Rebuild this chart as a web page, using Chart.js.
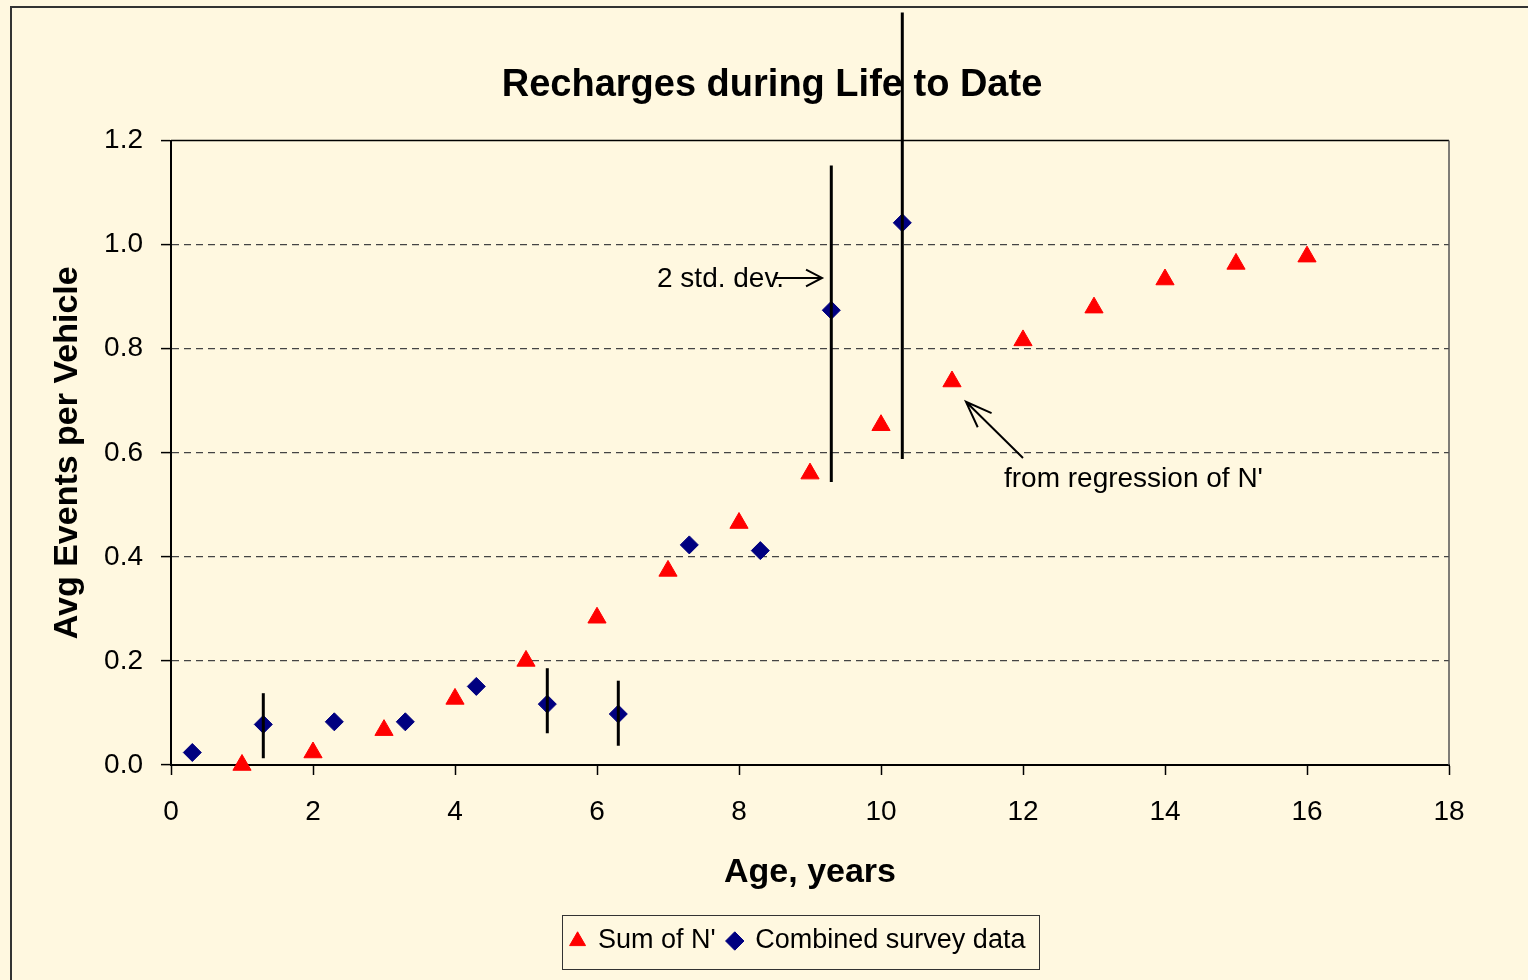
<!DOCTYPE html>
<html>
<head>
<meta charset="utf-8">
<title>Recharges during Life to Date</title>
<script src="https://cdn.jsdelivr.net/npm/chart.js@4/dist/chart.umd.min.js"></script>
<style>
  html, body { margin: 0; padding: 0; background: #FFF8E0; }
  canvas { display: block; }
</style>
</head>
<body>
<canvas id="chart" width="1528" height="980"></canvas>
<script>
// ===========================================================================
// DATA
// ===========================================================================

// "Sum of N'" - one value per year of age
const sumAges   = [1, 2, 3, 4, 5, 6, 7, 8, 9, 10, 11, 12, 13, 14, 15, 16];
const sumValues = [0.0, 0.024, 0.067, 0.127, 0.2, 0.283, 0.373, 0.465, 0.56,
                   0.653, 0.737, 0.816, 0.879, 0.933, 0.963, 0.977];

// "Combined survey data" - sits 0.3 years past each whole year
const surveyAges   = [0.3, 1.3, 2.3, 3.3, 4.3, 5.3, 6.3, 7.3, 8.3, 9.3, 10.3];
const surveyValues = [0.024, 0.078, 0.083, 0.083, 0.151, 0.117, 0.098,
                      0.423, 0.412, 0.874, 1.042];

// 2 std. dev. bars on some survey points (null = no bar)
const surveyErrHigh = [null, 0.138, null, null, null, 0.186, 0.162, null, null, 1.152, 1.446];
const surveyErrLow  = [null, 0.013, null, null, null, 0.061, 0.037, null, null, 0.544, 0.588];

// Axis ticks
const xTickValues = [0, 2, 4, 6, 8, 10, 12, 14, 16, 18];
const xTickLabels = ["0", "2", "4", "6", "8", "10", "12", "14", "16", "18"];
const yTickValues = [0, 0.2, 0.4, 0.6, 0.8, 1.0, 1.2];
const yTickLabels = ["0.0", "0.2", "0.4", "0.6", "0.8", "1.0", "1.2"];

// Text notes with their arrows, placed in data units
const notes = [
  { text: "2 std. dev.", x: 6.845, y: 0.934,
    from: [8.507, 0.936], to: [9.169, 0.936], head: 18, spread: 0.48 },
  { text: "from regression of N'", x: 11.732, y: 0.549,
    from: [12.0, 0.59], to: [11.197, 0.698], head: 28, spread: 0.36 },
];

// ===========================================================================
// LOOK
// ===========================================================================
const BG = "#FFF8E0";
const FONT = "'Liberation Sans', Arial, sans-serif";
Chart.defaults.font.family = FONT;
Chart.defaults.color = "#000";

// ===========================================================================
// PLUGINS (background frame, plot border, error bars, notes, legend box)
// ===========================================================================

const backgroundPlugin = {
  id: "backgroundFrame",
  beforeDraw(chart) {
    const ctx = chart.ctx;
    ctx.save();
    ctx.fillStyle = BG;
    ctx.fillRect(0, 0, chart.width, chart.height);
    // outer chart frame runs off the right and bottom edges
    ctx.strokeStyle = "#333";
    ctx.lineWidth = 2;
    ctx.strokeRect(11, 7, chart.width + 50, chart.height + 50);
    ctx.restore();
  },
};

const plotBorderPlugin = {
  id: "plotBorder",
  afterDraw(chart) {
    const { ctx, chartArea: a } = chart;
    ctx.save();
    ctx.lineWidth = 1.5;
    ctx.strokeStyle = "#000";
    ctx.beginPath();
    ctx.moveTo(a.left, a.top);
    ctx.lineTo(a.right, a.top);
    ctx.stroke();
    ctx.strokeStyle = "#555";
    ctx.beginPath();
    ctx.moveTo(a.right, a.top);
    ctx.lineTo(a.right, a.bottom);
    ctx.stroke();
    ctx.restore();
  },
};

const errorBarPlugin = {
  id: "errorBars",
  afterDatasetsDraw(chart) {
    const { ctx, scales } = chart;
    ctx.save();
    ctx.strokeStyle = "#000";
    ctx.lineWidth = 3;
    surveyAges.forEach((age, i) => {
      if (surveyErrHigh[i] == null) return;
      const x = scales.x.getPixelForValue(age);
      ctx.beginPath();
      ctx.moveTo(x, scales.y.getPixelForValue(surveyErrHigh[i]));
      ctx.lineTo(x, scales.y.getPixelForValue(surveyErrLow[i]));
      ctx.stroke();
    });
    ctx.restore();
  },
};

const notesPlugin = {
  id: "notes",
  afterDraw(chart) {
    const { ctx, scales } = chart;
    const px = (v) => scales.x.getPixelForValue(v);
    const py = (v) => scales.y.getPixelForValue(v);
    ctx.save();
    ctx.fillStyle = "#000";
    ctx.strokeStyle = "#000";
    ctx.lineWidth = 2;
    ctx.font = "28px " + FONT;
    ctx.textBaseline = "middle";
    notes.forEach((n) => {
      ctx.fillText(n.text, px(n.x), py(n.y));
      const x1 = px(n.from[0]), y1 = py(n.from[1]);
      const x2 = px(n.to[0]), y2 = py(n.to[1]);
      const ang = Math.atan2(y1 - y2, x1 - x2);
      ctx.beginPath();
      ctx.moveTo(x1, y1);
      ctx.lineTo(x2, y2);
      ctx.moveTo(x2 + n.head * Math.cos(ang - n.spread), y2 + n.head * Math.sin(ang - n.spread));
      ctx.lineTo(x2, y2);
      ctx.lineTo(x2 + n.head * Math.cos(ang + n.spread), y2 + n.head * Math.sin(ang + n.spread));
      ctx.stroke();
    });
    ctx.restore();
  },
};

const legendBoxPlugin = {
  id: "legendBox",
  // Excel put the legend a little left of the plot centre
  afterLayout(chart) {
    if (!chart.legend) return;
    chart.legend.left -= 12;
    chart.legend.right -= 12;
  },
  afterDraw(chart) {
    const boxes = chart.legend && chart.legend.legendHitBoxes;
    if (!boxes || !boxes.length) return;
    const first = boxes[0];
    const last = boxes[boxes.length - 1];
    const left = first.left - 9;
    const right = last.left + last.width + 13;
    const top = first.top - 13;
    const bottom = first.top + first.height + 14;
    const ctx = chart.ctx;
    ctx.save();
    ctx.strokeStyle = "#333";
    ctx.lineWidth = 1;
    ctx.strokeRect(Math.round(left) + 0.5, Math.round(top) + 0.5,
                   Math.round(right - left), Math.round(bottom - top));
    ctx.restore();
  },
};

// ===========================================================================
// CHART
// ===========================================================================

const sumPoints = sumAges.map((x, i) => ({ x: x, y: sumValues[i] }));
const surveyPoints = surveyAges.map((x, i) => ({ x: x, y: surveyValues[i] }));

new Chart(document.getElementById("chart"), {
  type: "scatter",
  data: {
    datasets: [
      {
        label: "Sum of N'",
        data: sumPoints,
        pointStyle: "triangle",
        pointRadius: 10.5,
        pointHoverRadius: 10.5,
        backgroundColor: "#FF0000",
        borderColor: "#FF0000",
        borderWidth: 1,
        clip: false,
      },
      {
        label: "Combined survey data",
        data: surveyPoints,
        pointStyle: "rectRot",
        pointRadius: 9,
        pointHoverRadius: 9,
        backgroundColor: "#000080",
        borderColor: "#000080",
        borderWidth: 1,
        clip: false,
      },
    ],
  },
  options: {
    responsive: false,
    animation: false,
    layout: { padding: { top: 36, left: 42, right: 26, bottom: 15.5 } },
    plugins: {
      tooltip: { enabled: false },
      title: {
        display: true,
        text: "Recharges during Life to Date",
        color: "#000",
        font: { size: 38, weight: "bold" },
        padding: { top: 27, bottom: 32 },
      },
      legend: {
        position: "bottom",
        fullSize: false,
        labels: {
          usePointStyle: true,
          boxWidth: 14,
          boxHeight: 13,
          padding: 12,
          color: "#000",
          font: { size: 27 },
        },
      },
    },
    scales: {
      x: {
        type: "linear",
        min: 0,
        max: 18,
        afterFit: (s) => { s.height = 150.5; },
        afterBuildTicks: (s) => { s.ticks = xTickValues.map((v) => ({ value: v })); },
        ticks: {
          padding: 20,
          color: "#000",
          font: { size: 28 },
          maxRotation: 0,
          callback: (v, i) => xTickLabels[i],
        },
        grid: {
          drawOnChartArea: false,
          drawTicks: true,
          tickLength: 10,
          tickColor: "#000",
          tickWidth: 1.5,
        },
        border: { display: true, color: "#000", width: 2 },
        title: {
          display: true,
          text: "Age, years",
          color: "#000",
          font: { size: 34, weight: "bold" },
          padding: { top: 0, bottom: 22 },
        },
      },
      y: {
        type: "linear",
        min: 0,
        max: 1.2,
        afterFit: (s) => { s.width = 129; },
        afterBuildTicks: (s) => { s.ticks = yTickValues.map((v) => ({ value: v })); },
        ticks: {
          padding: 18,
          color: "#000",
          font: { size: 28 },
          callback: (v, i) => yTickLabels[i],
        },
        grid: {
          color: (c) => (c.tick && (c.tick.value === 0 || c.tick.value === 1.2)
            ? "rgba(0,0,0,0)" : "#444444"),
          lineWidth: 1.2,
          drawTicks: true,
          tickLength: 10,
          tickColor: "#000",
          tickWidth: 1.5,
          tickBorderDash: [],
        },
        // in Chart.js v4 the grid line dash lives under border
        border: { display: true, color: "#000", width: 2, dash: [7, 5] },
        title: {
          display: true,
          text: "Avg Events per Vehicle",
          color: "#000",
          font: { size: 34, weight: "bold" },
          padding: { top: 5, bottom: 0 },
        },
      },
      // empty right-hand axis, only to keep the plot area off the right edge
      yRight: {
        type: "linear",
        position: "right",
        afterFit: (s) => { s.width = 53; },
        ticks: { display: false },
        grid: { display: false },
        border: { display: false },
      },
    },
  },
  plugins: [backgroundPlugin, errorBarPlugin, plotBorderPlugin, notesPlugin, legendBoxPlugin],
});
</script>
</body>
</html>
